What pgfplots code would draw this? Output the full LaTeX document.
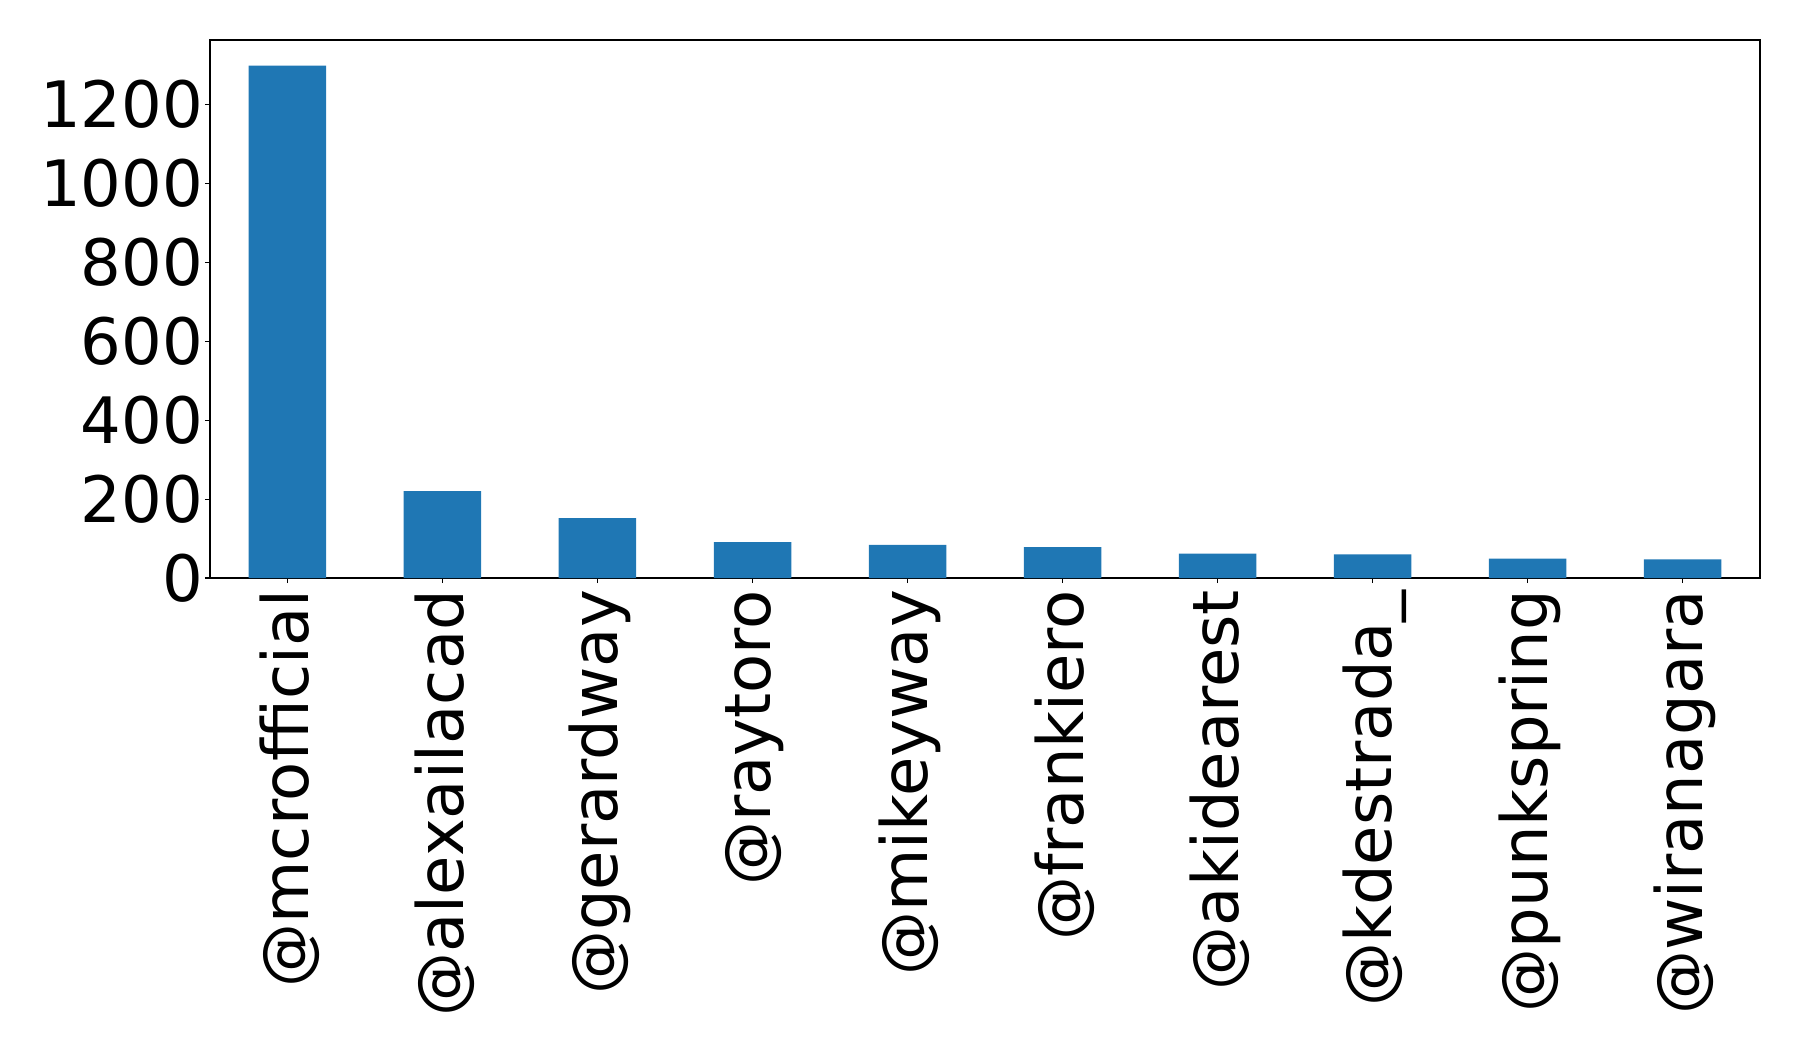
\documentclass[border=0pt]{standalone}
\usepackage{fontspec}
\setmainfont{DejaVu Sans}
\usepackage{pgfplots}
\pgfplotsset{compat=1.18}
\definecolor{mplblue}{HTML}{1F77B4}
\begin{document}
\begin{tikzpicture}
    \begin{axis}[scale only axis,
            at={(0,0)},anchor=south west,
            width=775pt,height=269pt,
            xmin=-0.5,xmax=9.5,
            ymin=0,ymax=1363,
            xtick={0,1,...,9},
            ytick={0,200,...,1200},
            xticklabels={@mcrofficial,@alexailacad,@gerardway,@raytoro,@mikeyway,@frankiero,@akidearest,@kdestrada\_,@punkspring,@wiranagara},
            xtick pos=lower, ytick pos=left,
            tick align=outside,
            major tick length=2.5pt,
            every tick/.style={line width=0.55pt,black},
            axis line style={line width=0.55pt},
            tick label style={font=\fontsize{32}{38}\selectfont},
            xticklabel style={rotate=90,anchor=east,yshift=-1pt},
            yticklabel style={xshift=2.5pt},
            /pgf/number format/assume math mode=true,
            /pgf/number format/1000 sep={},
            scaled y ticks=false,
            ]
        \addplot[ybar,bar width=0.5,fill=mplblue,draw=none] coordinates {
            (0,1298) (1,220) (2,152) (3,91) (4,84)
            (5,78) (6,62) (7,60) (8,49) (9,47)};
    \end{axis}
    \path[use as bounding box] (-105pt,-233pt) rectangle (794pt,289pt);
\end{tikzpicture}
\end{document}
